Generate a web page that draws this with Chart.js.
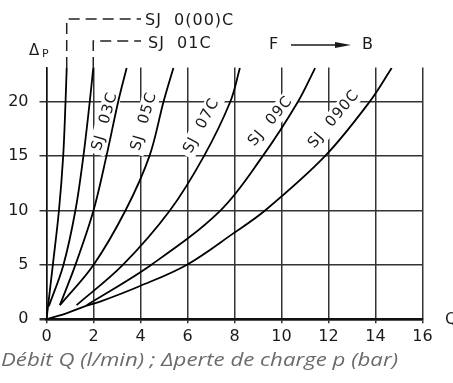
<!DOCTYPE html>
<html>
<head>
<meta charset="utf-8">
<script src="https://cdn.jsdelivr.net/npm/chart.js@4/dist/chart.umd.min.js"></script>
<style>
  html, body { margin: 0; padding: 0; background: #fff; }
  #chart { display: block; }
</style>
</head>
<body>
<canvas id="chart" width="453" height="383"></canvas>
<script>
// Kurven: Durchfluss Q (l/min) gegen Druckverlust p (bar)
const seriesNames = ["SJ  0(00)C", "SJ  01C", "SJ  03C", "SJ  05C", "SJ  07C", "SJ  09C", "SJ  090C"];

const sj000cQ = [0, 0.27, 0.53, 0.71, 0.81, 0.86];
const sj000cP = [0, 5, 10, 15, 20, 23.1];

const sj01cQ = [0.1, 0.72, 1.23, 1.57, 1.84, 1.99];
const sj01cP = [1.2, 5, 10, 15, 20, 23.1];

const sj03cQ = [0.57, 1.23, 2.0, 2.55, 3.05, 3.41];
const sj03cP = [1.3, 5, 10, 15, 20, 23.1];

const sj05cQ = [0.57, 2.0, 3.36, 4.38, 4.98, 5.4];
const sj05cP = [1.3, 5, 10, 15, 20, 23.1];

const sj07cQ = [1.28, 3.25, 5.25, 6.7, 7.82, 8.23];
const sj07cP = [1.3, 5, 10, 15, 20, 23.1];

const sj09cQ = [1.71, 4.45, 7.4, 9.2, 10.7, 11.43];
const sj09cP = [1.3, 5, 10, 15, 20, 23.1];

const sj090cQ = [0, 0.9, 1.71, 2.28, 3.98, 5.96, 7.95, 9.3, 11.85, 13.75, 14.69];
const sj090cP = [0, 0.6, 1.25, 1.62, 3.06, 5, 7.9, 10, 15, 20, 23.1];

const xTicks = [0, 2, 4, 6, 8, 10, 12, 14, 16];
const yTicks = [0, 5, 10, 15, 20];

const allQ = [sj000cQ, sj01cQ, sj03cQ, sj05cQ, sj07cQ, sj09cQ, sj090cQ];
const allP = [sj000cP, sj01cP, sj03cP, sj05cP, sj07cP, sj09cP, sj090cP];

// Beschriftungen an den Kurven (Position in Q/p-Werten, Winkel in Grad)
const curveLabels = [
    { idx: 2, q: 2.49, p: 18.2, rot: -74 },
    { idx: 3, q: 4.15, p: 18.2, rot: -74 },
    { idx: 4, q: 6.6, p: 17.8, rot: -62 },
    { idx: 5, q: 9.54, p: 18.2, rot: -50 },
    { idx: 6, q: 12.23, p: 18.4, rot: -50 }
];

const FONT = '"DejaVu Sans", sans-serif';
const INK = '#1a1a1a';

function toPoints(qs, ps) {
    return qs.map((q, i) => ({ x: q, y: ps[i] }));
}

const datasets = allQ.map((qs, i) => ({
    label: seriesNames[i],
    data: toPoints(qs, allP[i]),
    showLine: true,
    borderColor: '#000',
    borderWidth: 1.8,
    pointRadius: 0,
    fill: false,
    tension: 0.35
}));

function labelBox(ctx, lab, chart) {
    const xs = chart.scales.x, ys = chart.scales.y;
    const px = xs.getPixelForValue(lab.q);
    const py = ys.getPixelForValue(lab.p);
    ctx.font = '15px ' + FONT;
    ctx.letterSpacing = '1px';
    const w = ctx.measureText(seriesNames[lab.idx]).width;
    ctx.letterSpacing = '0px';
    return { px, py, w };
}

const drawingPlugin = {
    id: 'drawing',
    beforeDatasetsDraw(chart) {
        // weiße Flächen hinter den Kurvennamen unterbrechen das Gitter
        const ctx = chart.ctx;
        curveLabels.forEach(lab => {
            const b = labelBox(ctx, lab, chart);
            ctx.save();
            ctx.translate(b.px, b.py);
            ctx.rotate(lab.rot * Math.PI / 180);
            ctx.fillStyle = '#fff';
            ctx.fillRect(-b.w / 2 - 4, -9, b.w + 8, 18);
            ctx.restore();
        });
    },
    afterDraw(chart) {
        const ctx = chart.ctx;
        const xs = chart.scales.x, ys = chart.scales.y;
        const area = chart.chartArea;

        // Kurvennamen
        curveLabels.forEach(lab => {
            const b = labelBox(ctx, lab, chart);
            ctx.save();
            ctx.translate(b.px, b.py);
            ctx.rotate(lab.rot * Math.PI / 180);
            ctx.fillStyle = INK;
            ctx.font = '15px ' + FONT;
            ctx.letterSpacing = '1px';
            ctx.textAlign = 'center';
            ctx.textBaseline = 'middle';
            ctx.fillText(seriesNames[lab.idx], 0, 0);
            ctx.restore();
        });

        // gestrichelte Hinweislinien für die zwei steilsten Kurven
        const leaders = [
            { idx: 0, yTop: 19 },
            { idx: 1, yTop: 41 }
        ];
        ctx.save();
        ctx.strokeStyle = '#222';
        ctx.lineWidth = 1.5;
        ctx.setLineDash([11, 6]);
        leaders.forEach(l => {
            const qs = allQ[l.idx], ps = allP[l.idx];
            const x = xs.getPixelForValue(qs[qs.length - 1]);
            const y = ys.getPixelForValue(ps[ps.length - 1]);
            ctx.beginPath();
            ctx.moveTo(x, y);
            ctx.lineTo(x, l.yTop);
            ctx.lineTo(141, l.yTop);
            ctx.stroke();
        });
        ctx.restore();

        ctx.save();
        ctx.fillStyle = INK;
        ctx.font = '16px ' + FONT;
        ctx.letterSpacing = '1px';
        ctx.textBaseline = 'middle';
        ctx.textAlign = 'left';
        ctx.fillText(seriesNames[0], 145, 21);
        ctx.fillText(seriesNames[1], 148, 44);

        // Flussrichtung F -> B
        ctx.fillText('F', 269, 45);
        ctx.fillText('B', 362, 45);
        ctx.restore();
        ctx.save();
        ctx.strokeStyle = INK;
        ctx.lineWidth = 1.5;
        ctx.beginPath();
        ctx.moveTo(291, 45);
        ctx.lineTo(338, 45);
        ctx.stroke();
        ctx.fillStyle = INK;
        ctx.beginPath();
        ctx.moveTo(335, 42);
        ctx.lineTo(351, 45);
        ctx.lineTo(335, 48);
        ctx.closePath();
        ctx.fill();
        ctx.restore();

        // Achsentitel
        ctx.save();
        ctx.letterSpacing = '0px';
        ctx.fillStyle = INK;
        ctx.textAlign = 'left';
        ctx.textBaseline = 'alphabetic';
        ctx.font = '15px ' + FONT;
        ctx.fillText('\u0394', 29, 55);
        ctx.font = '11px ' + FONT;
        ctx.fillText('P', 42, 57);
        ctx.font = '16px ' + FONT;
        ctx.textBaseline = 'middle';
        ctx.fillText('Q', 445, area.bottom + 1);
        ctx.restore();

        // Legende unten
        ctx.save();
        ctx.letterSpacing = '0px';
        ctx.fillStyle = '#6b6b6b';
        ctx.textAlign = 'left';
        ctx.font = 'italic 18px "Open Sans", sans-serif';
        ctx.textBaseline = 'alphabetic';
        const caption = 'Débit Q (l/min) ; \u0394perte de charge p (bar)';
        const w = ctx.measureText(caption).width;
        ctx.translate(1, 366);
        ctx.scale(397 / w, 1);
        ctx.fillText(caption, 0, 0);
        ctx.restore();
    }
};

new Chart(document.getElementById('chart'), {
    type: 'scatter',
    data: { datasets: datasets },
    plugins: [drawingPlugin],
    options: {
        responsive: false,
        animation: false,
        devicePixelRatio: 1,
        layout: { padding: { top: 67.5, right: 30.5, left: 0, bottom: 0 } },
        plugins: {
            legend: { display: false },
            tooltip: { enabled: false }
        },
        scales: {
            x: {
                type: 'linear',
                min: xTicks[0],
                max: xTicks[xTicks.length - 1],
                afterBuildTicks: scale => { scale.ticks = xTicks.map(v => ({ value: v })); },
                afterFit: scale => { scale.height = 63.7; },
                grid: {
                    color: '#333',
                    lineWidth: 1.5,
                    drawTicks: true,
                    tickLength: 4
                },
                border: { display: true, color: '#111', width: 2.5 },
                ticks: {
                    color: INK,
                    padding: 4,
                    font: { family: 'DejaVu Sans', size: 16 }
                }
            },
            y: {
                type: 'linear',
                min: 0,
                max: 23.15,
                afterBuildTicks: scale => { scale.ticks = yTicks.map(v => ({ value: v })); },
                afterFit: scale => { scale.width = 46.5; },
                grid: {
                    color: '#333',
                    lineWidth: c => (c.tick && c.tick.value === 0 ? 2.5 : 1.5),
                    drawTicks: true,
                    tickLength: 7
                },
                border: { display: true, color: '#111', width: 1.5 },
                ticks: {
                    color: INK,
                    padding: 11,
                    font: { family: 'DejaVu Sans', size: 16 }
                }
            }
        }
    }
});
</script>
</body>
</html>
